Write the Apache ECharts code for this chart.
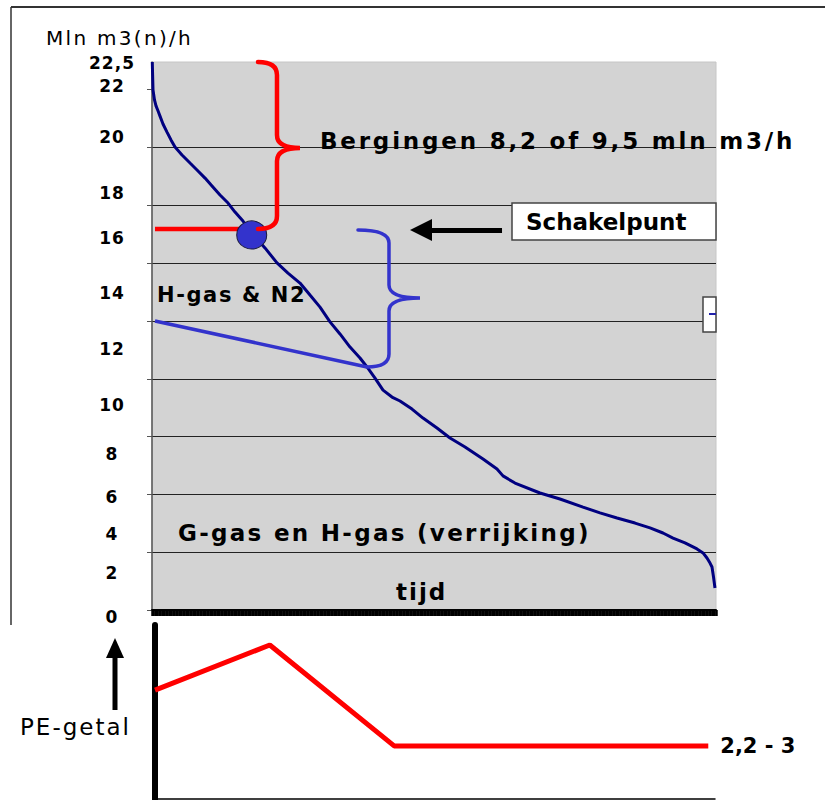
<!DOCTYPE html>
<html>
<head>
<meta charset="utf-8">
<title>Schakelpunt</title>
<script src="https://cdn.jsdelivr.net/npm/echarts@6/dist/echarts.min.js"></script>
<style>
  html, body { margin: 0; padding: 0; background: #fff; }
  #chart { width: 825px; height: 800px; }
</style>
</head>
<body>
<div id="chart"></div>
<script>
// belastingduurkromme: tijd (% van het jaar) en debiet (mln m3(n)/h)
const tijd = [0.05, 0.11, 0.18, 0.44, 0.71, 1.06, 1.42, 1.95, 2.66, 3.37, 4.08, 5.32, 6.74, 7.98, 9.40,
  10.64, 12.06, 13.48, 14.72, 16.13, 17.38, 18.79, 20.03, 22.16, 24.11, 26.24, 28.01, 29.79, 31.56,
  33.33, 35.11, 36.88, 38.12, 39.54, 40.96, 42.55, 43.97, 46.10, 48.05, 50.53, 52.84, 55.50, 58.69,
  61.17, 62.23, 64.36, 68.79, 72.34, 76.42, 79.43, 82.45, 85.64, 88.30, 90.60, 92.38, 94.50, 96.63,
  97.70, 98.40, 98.94, 99.29, 99.56, 99.82]
const debiet = [23.70, 23.14, 22.49, 22.06, 21.80, 21.59, 21.36, 21.02, 20.67, 20.33, 20.02, 19.68, 19.33,
  19.03, 18.68, 18.34, 17.95, 17.60, 17.21, 16.82, 16.43, 16.00, 15.66, 15.01, 14.57, 14.14, 13.62,
  13.10, 12.46, 11.94, 11.37, 10.90, 10.51, 10.03, 9.51, 9.21, 9.04, 8.69, 8.30, 7.87, 7.44, 7.05,
  6.53, 6.10, 5.80, 5.49, 5.06, 4.80, 4.45, 4.20, 3.98, 3.76, 3.55, 3.33, 3.11, 2.90, 2.64, 2.47,
  2.25, 2.03, 1.86, 1.43, 0.95]

// y-as: rasterlijnen en (verschoven) labels zoals in het origineel
const yGrid = [0, 2.5, 5, 7.5, 10, 12.5, 15, 17.5, 20, 22.5]
const yLabelPos = [23.66, 22.66, 20.46, 18.03, 16.09, 13.71, 11.29, 8.87, 6.75, 4.89, 3.29, 1.60, 0]
const yLabelText = ['22,5', '22', '20', '18', '16', '14', '12', '10', '8', '6', '4', '2', '0']

// annotaties in data-eenheden
const schakelLijn = [[0.53, 16.48], [19.5, 16.48]]
const schakelPunt = [[17.68, 16.22]]
const hGasLijn = [[0.53, 12.5], [38.12, 10.51]]
const pijl = [[62.06, 16.43], [47.70, 16.43]]
// accolade: [x boven, x onder, x rug, x punt, y boven, y onder, y punt]
const roodAccolade = [18.79, 18.79, 22.16, 26.24, 23.70, 16.48, 19.98]
const blauwAccolade = [36.52, 38.12, 42.02, 47.52, 16.43, 10.51, 13.49]

// PE-getal paneel
const peTijd = [0, 20.5, 42.7, 98.8]
const peGetal = [6.26, 8.85, 3.05, 3.05]
const peEindLabel = '2,2 - 3'

const FONT = '"DejaVu Sans", Verdana, sans-serif'

const chart = echarts.init(document.getElementById('chart'), null, { renderer: 'svg' })

function braceSeries (brace, color, width) {
  return {
    type: 'custom',
    xAxisIndex: 0,
    yAxisIndex: 0,
    z: 6,
    silent: true,
    data: [brace],
    renderItem (params, api) {
      const top = api.coord([api.value(0), api.value(4)])
      const bot = api.coord([api.value(1), api.value(5)])
      const sx = api.coord([api.value(2), api.value(6)])[0]
      const tip = api.coord([api.value(3), api.value(6)])
      const r = 13
      const d = 'M' + top[0] + ',' + top[1] +
        ' Q' + sx + ',' + top[1] + ' ' + sx + ',' + (top[1] + r) +
        ' L' + sx + ',' + (tip[1] - r) +
        ' Q' + sx + ',' + tip[1] + ' ' + tip[0] + ',' + tip[1] +
        ' Q' + sx + ',' + tip[1] + ' ' + sx + ',' + (tip[1] + r) +
        ' L' + sx + ',' + (bot[1] - r) +
        ' Q' + sx + ',' + bot[1] + ' ' + bot[0] + ',' + bot[1]
      return {
        type: 'path',
        shape: { pathData: d },
        style: { fill: 'none', stroke: color, lineWidth: width, lineCap: 'round' }
      }
    }
  }
}

function txt (text, x, y, font) {
  return {
    type: 'text',
    x: x,
    y: y,
    z: 100,
    style: { text: text, font: font, fill: '#000', textVerticalAlign: 'middle', verticalAlign: 'middle' }
  }
}

chart.setOption({
  animation: false,
  backgroundColor: '#fff',
  grid: [
    {
      left: 152,
      right: 109,
      top: 62,
      bottom: 190,
      show: true,
      backgroundColor: '#d3d3d3',
      borderColor: '#c6c6c6',
      borderWidth: 1
    },
    {
      left: 155,
      right: 110,
      top: 625,
      bottom: 1
    }
  ],
  xAxis: [
    {
      type: 'value',
      gridIndex: 0,
      min: 0,
      max: 100,
      interval: 0.25,
      axisLine: { lineStyle: { color: '#000', width: 2 } },
      axisTick: { show: true, length: 6, lineStyle: { color: '#000', width: 2.5 } },
      axisLabel: { show: false },
      splitLine: { show: false }
    },
    {
      type: 'value',
      gridIndex: 1,
      min: 0,
      max: 100,
      axisLine: { lineStyle: { color: '#000', width: 1.5 } },
      axisTick: { show: false },
      axisLabel: { show: false },
      splitLine: { show: false }
    }
  ],
  yAxis: [
    {
      type: 'value',
      gridIndex: 0,
      min: 0,
      max: 23.7,
      interval: 2.5,
      axisLine: { show: true, lineStyle: { color: '#555', width: 1.5 } },
      axisTick: { show: true, length: 5, customValues: yGrid, lineStyle: { color: '#555' } },
      splitLine: {
        show: true,
        showMinLine: false,
        showMaxLine: false,
        lineStyle: { color: '#222', width: 1 }
      },
      axisLabel: {
        customValues: yLabelPos,
        margin: 40,
        align: 'center',
        color: '#000',
        fontFamily: FONT,
        fontWeight: 'bold',
        fontSize: 17,
        formatter (v) {
          let best = 0
          yLabelPos.forEach((p, i) => {
            if (Math.abs(p - v) < Math.abs(yLabelPos[best] - v)) best = i
          })
          const label = yLabelText[best]
          return label === '0' ? '{lo|0}' : label
        },
        rich: {
          lo: {
            padding: [13, 0, 0, 0],
            fontFamily: FONT,
            fontWeight: 'bold',
            fontSize: 17,
            color: '#000'
          }
        }
      }
    },
    {
      type: 'value',
      gridIndex: 1,
      min: 0,
      max: 10,
      axisLine: { show: true, lineStyle: { color: '#000', width: 6 } },
      axisTick: { show: false },
      axisLabel: { show: false },
      splitLine: { show: false }
    }
  ],
  series: [
    {
      name: 'debiet',
      type: 'line',
      xAxisIndex: 0,
      yAxisIndex: 0,
      showSymbol: false,
      z: 3,
      lineStyle: { color: '#000080', width: 3 },
      data: tijd.map((t, i) => [t, debiet[i]])
    },
    {
      name: 'H-gas & N2',
      type: 'line',
      xAxisIndex: 0,
      yAxisIndex: 0,
      showSymbol: false,
      z: 4,
      lineStyle: { color: '#3333cc', width: 3.5 },
      data: hGasLijn
    },
    {
      name: 'schakellijn',
      type: 'line',
      xAxisIndex: 0,
      yAxisIndex: 0,
      showSymbol: false,
      z: 4,
      lineStyle: { color: '#ff0000', width: 4.5 },
      data: schakelLijn
    },
    {
      name: 'schakelpunt',
      type: 'scatter',
      xAxisIndex: 0,
      yAxisIndex: 0,
      z: 5,
      symbolSize: [30, 28],
      itemStyle: { color: '#3333cc', borderColor: '#1a1a40', borderWidth: 1, opacity: 1 },
      data: schakelPunt
    },
    braceSeries(roodAccolade, '#ff0000', 4.5),
    braceSeries(blauwAccolade, '#3333cc', 3.5),
    {
      name: 'pijl',
      type: 'lines',
      coordinateSystem: 'cartesian2d',
      xAxisIndex: 0,
      yAxisIndex: 0,
      z: 6,
      silent: true,
      symbol: ['none', 'triangle'],
      symbolSize: 22,
      lineStyle: { color: '#000', width: 5, opacity: 1 },
      data: [{ coords: pijl }]
    },
    {
      name: 'PE-getal',
      type: 'line',
      xAxisIndex: 1,
      yAxisIndex: 1,
      showSymbol: false,
      lineStyle: { color: '#ff0000', width: 5 },
      data: peTijd.map((t, i) => [t, peGetal[i]]),
      endLabel: {
        show: true,
        formatter: peEindLabel,
        distance: 12,
        color: '#000',
        fontFamily: FONT,
        fontWeight: 'bold',
        fontSize: 21
      }
    }
  ],
  graphic: [
    // kader
    { type: 'line', z: 90, shape: { x1: 11, y1: 7, x2: 825, y2: 7 }, style: { stroke: '#333', lineWidth: 2 } },
    { type: 'line', z: 90, shape: { x1: 11, y1: 7, x2: 11, y2: 625 }, style: { stroke: '#333', lineWidth: 1.5 } },
    txt('Mln m3(n)/h', 46, 38, '20px ' + FONT),
    txt('Bergingen 8,2 of 9,5 mln m3/h', 320, 141, 'bold 23px ' + FONT),
    {
      type: 'rect',
      z: 95,
      shape: { x: 512, y: 203, width: 204, height: 37 },
      style: { fill: '#fff', stroke: '#444', lineWidth: 1.5 }
    },
    txt('Schakelpunt', 526, 222, 'bold 23px ' + FONT),
    txt('H-gas & N2', 157, 295, 'bold 21px ' + FONT),
    txt('G-gas en H-gas (verrijking)', 178, 533, 'bold 23px ' + FONT),
    txt('tijd', 396, 592, 'bold 23px ' + FONT),
    // stukje legenda aan de rand
    {
      type: 'rect',
      z: 95,
      shape: { x: 703, y: 297, width: 13, height: 35 },
      style: { fill: '#fff', stroke: '#444', lineWidth: 1.5 }
    },
    { type: 'line', z: 96, shape: { x1: 709, y1: 314, x2: 716, y2: 314 }, style: { stroke: '#2222aa', lineWidth: 2 } },
    // PE-getal pijl en label
    { type: 'rect', z: 95, shape: { x: 112.5, y: 655, width: 5, height: 55 }, style: { fill: '#000' } },
    { type: 'polygon', z: 95, shape: { points: [[106, 658], [115, 638], [124, 658]] }, style: { fill: '#000' } },
    txt('PE-getal', 20, 727, '23px ' + FONT)
  ]
})

// ruimere letterafstand zoals in het origineel (alleen mogelijk in svg)
const spacing = {
  'Bergingen 8,2 of 9,5 mln m3/h': 2.8,
  'G-gas en H-gas (verrijking)': 2.3,
  'H-gas & N2': 1.6,
  'tijd': 2,
  'Mln m3(n)/h': 2.3,
  'PE-getal': 2
}
function applySpacing () {
  document.querySelectorAll('#chart text').forEach(el => {
    const t = el.textContent
    if (spacing[t] !== undefined) el.setAttribute('letter-spacing', spacing[t])
    else if (yLabelText.indexOf(t) >= 0) el.setAttribute('letter-spacing', 1)
  })
}
applySpacing()
chart.on('finished', applySpacing)
</script>
</body>
</html>
